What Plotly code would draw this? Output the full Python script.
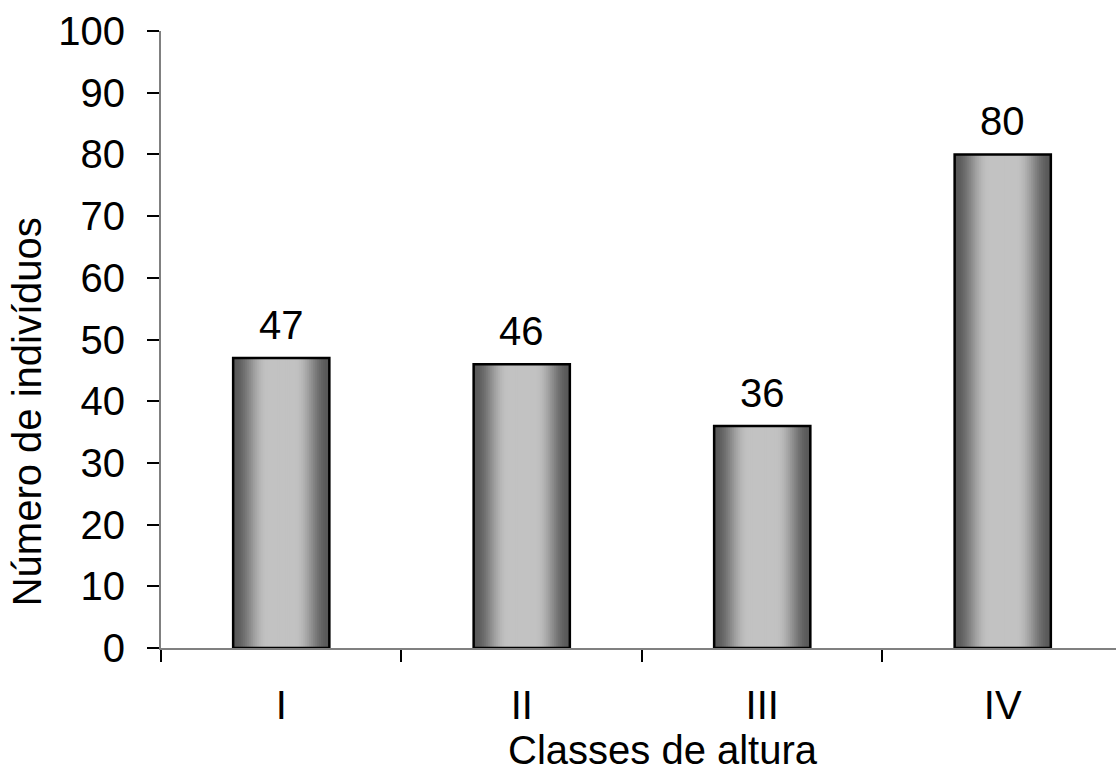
import plotly.graph_objects as go
import math

categories = ["I", "II", "III", "IV"]
values = [47, 46, 36, 80]
y_ticks = list(range(0, 101, 10))

FONT = "Liberation Sans, Arial, sans-serif"
BAR_W = 0.4
N = 24
DARK = 88
LIGHT = 194

fig = go.Figure()

# gradient bars (nested layers of narrowing width, lighter toward the center)
for k in range(N):
    t = 0.5 * (k + 0.5) / N
    f = min(t / 0.36, 1.0)
    f = math.sin(math.pi / 2 * f) ** 2
    c = int(round(DARK + (LIGHT - DARK) * f))
    w = BAR_W * (1 - k / N)
    fig.add_trace(go.Bar(
        x=categories, y=values, width=[w] * len(categories),
        marker=dict(color=f"rgb({c},{c},{c})", line=dict(width=0)),
        opacity=1, hoverinfo="skip", showlegend=False,
    ))

# outline
fig.add_trace(go.Bar(
    x=categories, y=values, width=[BAR_W] * len(categories),
    marker=dict(color="rgba(0,0,0,0)", line=dict(color="black", width=2.5)),
    opacity=1, showlegend=False,
))

for cat, v in zip(categories, values):
    fig.add_annotation(x=cat, y=v, text=str(v), showarrow=False,
                       yanchor="bottom", yshift=9,
                       font=dict(family=FONT, size=40, color="black"))

fig.add_annotation(xref="paper", yref="paper", x=0.5257, y=-0.165,
                   text="Classes de altura", showarrow=False,
                   xanchor="center", yanchor="middle",
                   font=dict(family=FONT, size=40, color="black"))
fig.add_annotation(xref="paper", yref="paper", x=-0.1403, y=0.382,
                   text="Número de indivíduos", showarrow=False, textangle=-90,
                   xanchor="center", yanchor="middle",
                   font=dict(family=FONT, size=40, color="black"))

fig.update_layout(
    width=1116, height=771,
    margin=dict(l=161, r=0, t=31, b=123, pad=0),
    barmode="overlay",
    plot_bgcolor="white", paper_bgcolor="white",
    font=dict(family=FONT, size=40, color="black"),
    xaxis=dict(
        type="category", categoryorder="array", categoryarray=categories,
        range=[-0.5, 3.471], showgrid=False, zeroline=False,
        showline=True, linecolor="#808080", linewidth=2,
        ticks="outside", tickson="boundaries", ticklen=12, tickwidth=2,
        tickcolor="black", ticklabelstandoff=21,
        tickfont=dict(family=FONT, size=40, color="black"),
    ),
    yaxis=dict(
        range=[0, 100], tickvals=y_ticks, showgrid=False, zeroline=False,
        showline=True, linecolor="#808080", linewidth=2,
        ticks="outside", ticklen=12, tickwidth=2, tickcolor="black",
        ticklabelstandoff=14,
        tickfont=dict(family=FONT, size=40, color="black"),
    ),
)

fig.write_html(
    "out.html",
    config={"displayModeBar": False},
    post_script="document.body.style.margin='0';document.body.style.overflow='hidden';",
)
